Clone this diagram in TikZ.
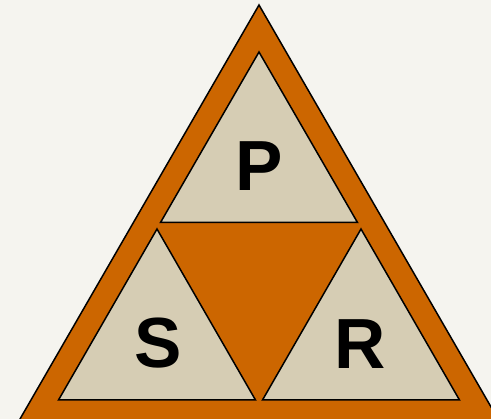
\documentclass[tikz,border=0pt]{standalone}
\usepackage{fontspec}
\setmainfont{Liberation Sans}
\definecolor{bg}{HTML}{F5F4EF}
\definecolor{org}{HTML}{CC6600}
\definecolor{beige}{HTML}{D6CDB4}
\begin{document}
\begin{tikzpicture}[x=1pt,y=-1pt,
  tri/.style={draw=black,line width=1.5pt,line join=miter},
  letter/.style={inner sep=0pt,font=\fontsize{71}{71}\selectfont\bfseries}]
\fill[bg] (0,0) rectangle (491,419);
\useasboundingbox (0,0) rectangle (491,419);
\begin{scope}
\clip (0,0) rectangle (491,419);
\draw[tri,fill=org] (259,5) -- (513,445) -- (5,445) -- cycle;
\end{scope}
\draw[tri,fill=beige] (259,52) -- (357.5,222.5) -- (160.5,222.5) -- cycle;
\draw[tri,fill=beige] (157,229) -- (255.5,400) -- (58.5,400) -- cycle;
\draw[tri,fill=beige] (361,229) -- (459.5,400) -- (262.5,400) -- cycle;
\node[letter] (p) at (259.5,166.5) {P};
\node[letter] (s) at (158,343.5) {S};
\node[letter] (r) at (360,344.3) {R};
\end{tikzpicture}
\end{document}
